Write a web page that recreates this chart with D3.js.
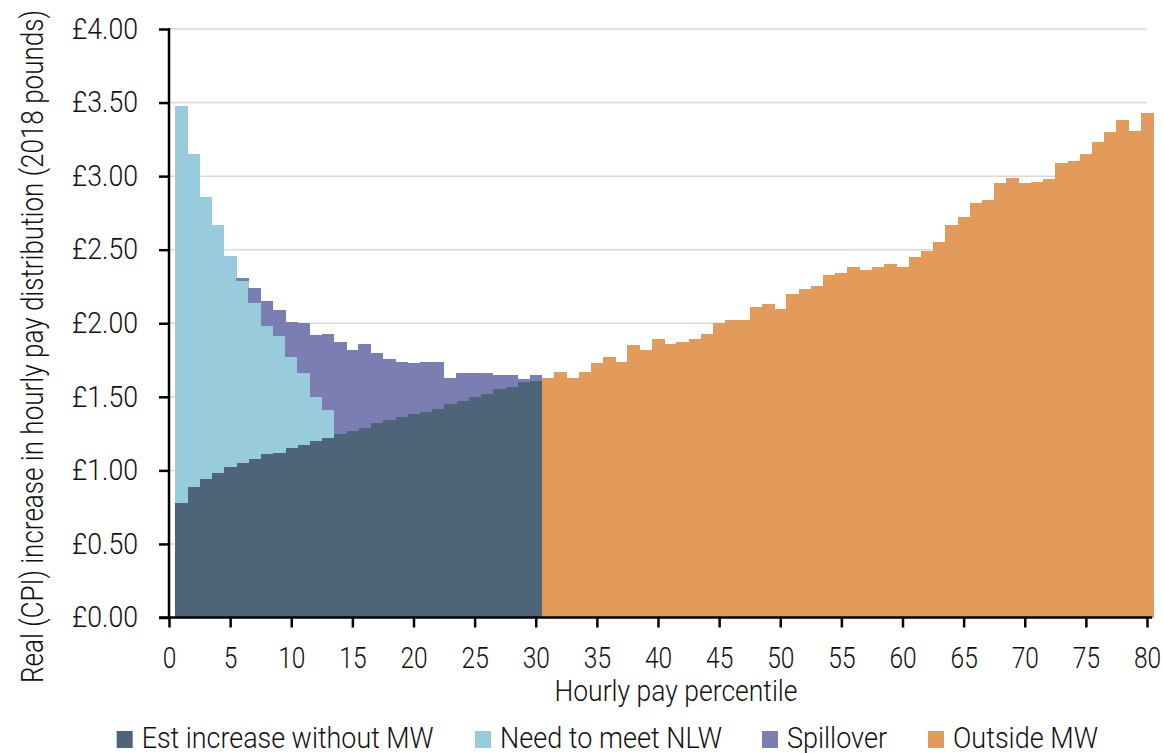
<!DOCTYPE html>
<html>
<head>
<meta charset="utf-8">
<script src="https://cdn.jsdelivr.net/npm/d3@7"></script>
<style>
  html, body { margin: 0; padding: 0; background: #ffffff; }
  svg { display: block; }
  text { font-family: Roboto, "Noto Sans", "Liberation Sans", sans-serif; font-weight: 300; fill: #111111; }
</style>
</head>
<body>
<svg id="chart" width="1163" height="753"></svg>
<script>
// ---- Data ----
const percentiles = d3.range(1, 81);

// Percentiles 1-30
const estWithoutMW = [0.78, 0.89, 0.94, 0.98, 1.02, 1.05, 1.08, 1.11, 1.12, 1.15,
                      1.17, 1.20, 1.22, 1.25, 1.27, 1.29, 1.32, 1.34, 1.36, 1.38,
                      1.40, 1.42, 1.45, 1.47, 1.50, 1.52, 1.55, 1.57, 1.60, 1.61];
// Percentiles 1-13
const needToMeetNLW = [2.70, 2.26, 1.92, 1.69, 1.44, 1.24, 1.06, 0.87, 0.79, 0.62,
                       0.49, 0.30, 0.19];
// Percentiles 1-30
const spillover = [0, 0, 0, 0, 0, 0.02, 0.10, 0.17, 0.18, 0.24,
                   0.34, 0.42, 0.52, 0.62, 0.55, 0.57, 0.48, 0.42, 0.38, 0.35,
                   0.34, 0.32, 0.18, 0.19, 0.16, 0.14, 0.10, 0.08, 0.02, 0.04];
// Percentiles 31-80
const outsideStart = 31;
const outsideMW = [1.63, 1.67, 1.63, 1.67, 1.73, 1.77, 1.74, 1.85, 1.82, 1.89,
                   1.86, 1.87, 1.89, 1.93, 2.00, 2.02, 2.02, 2.11, 2.13, 2.10,
                   2.20, 2.23, 2.25, 2.33, 2.34, 2.38, 2.36, 2.38, 2.40, 2.38,
                   2.45, 2.49, 2.55, 2.67, 2.72, 2.82, 2.84, 2.95, 2.99, 2.95,
                   2.96, 2.98, 3.09, 3.10, 3.15, 3.23, 3.30, 3.38, 3.31, 3.43];

const seriesKeys = ["est", "need", "spill", "outside"];
const seriesLabels = ["Est increase without MW", "Need to meet NLW", "Spillover", "Outside MW"];
const seriesColors = ["#4d6479", "#98cbdb", "#7b7eb3", "#e39b5c"];

const yTicks = [0, 0.5, 1, 1.5, 2, 2.5, 3, 3.5, 4];
const xTicks = d3.range(0, 81, 5);

(function () {
const table = percentiles.map((p, i) => ({
  p,
  est: estWithoutMW[i] || 0,
  need: needToMeetNLW[i] || 0,
  spill: spillover[i] || 0,
  outside: p >= outsideStart ? outsideMW[p - outsideStart] : 0
}));

// condensed look: squeeze text horizontally to a target advance width
function fit(sel, w) {
  sel.attr("textLength", w).attr("lengthAdjust", "spacingAndGlyphs");
}

// ---- Layout ----
const svg = d3.select("#chart");
const mLeft = 169, mRight = 1147, mTop = 29, mBottom = 617.5;

const x = d3.scaleLinear().domain([0, 80]).range([mLeft, mRight]);
const y = d3.scaleLinear().domain([0, 4]).range([mBottom, mTop]);

// Gridlines
svg.append("g")
  .selectAll("line")
  .data(yTicks.filter(d => d > 0))
  .join("line")
  .attr("x1", mLeft).attr("x2", mRight)
  .attr("y1", d => y(d)).attr("y2", d => y(d))
  .attr("stroke", "#d9d9d9").attr("stroke-width", 1.5);

// Bars
const stacked = d3.stack().keys(seriesKeys)(table);
const color = d3.scaleOrdinal().domain(seriesKeys).range(seriesColors);

svg.append("g")
  .selectAll("g")
  .data(stacked)
  .join("g")
  .attr("fill", d => color(d.key))
  .selectAll("rect")
  .data(d => d.filter(s => s[1] - s[0] > 0))
  .join("rect")
  .attr("shape-rendering", "crispEdges")
  .attr("x", d => x(d.data.p - 0.5))
  .attr("width", d => x(d.data.p + 0.5) - x(d.data.p - 0.5) + 0.4)
  .attr("y", d => y(d[1]))
  .attr("height", d => y(d[0]) - y(d[1]));

// Y axis
const yAxis = d3.axisLeft(y)
  .tickValues(yTicks)
  .tickFormat(d => "£" + d.toFixed(2))
  .tickSize(10)
  .tickPadding(21);
const gy = svg.append("g").attr("transform", `translate(${mLeft},0)`).call(yAxis);
gy.select(".domain").remove();
gy.selectAll(".tick line").attr("stroke", "#000").attr("stroke-width", 2.5);
gy.selectAll(".tick text").attr("font-size", 29).attr("font-family", null)
  .call(fit, 66);

// X axis
const xAxis = d3.axisBottom(x)
  .tickValues(xTicks)
  .tickFormat(d3.format("d"))
  .tickSize(10)
  .tickPadding(20);
const gx = svg.append("g").attr("transform", `translate(0,${mBottom})`).call(xAxis);
gx.select(".domain").remove();
gx.selectAll(".tick line").attr("stroke", "#000").attr("stroke-width", 2.5);
gx.selectAll(".tick text").attr("font-size", 29).attr("font-family", null)
  .each(function (d) { d3.select(this).call(fit, 13.6 * String(d).length); });

// Axis lines
svg.append("line")
  .attr("x1", mLeft).attr("x2", mLeft)
  .attr("y1", mTop - 1).attr("y2", mBottom + 1)
  .attr("stroke", "#000").attr("stroke-width", 2.5);
svg.append("line")
  .attr("x1", mLeft - 10).attr("x2", x(80.5) - 1)
  .attr("y1", mBottom).attr("y2", mBottom)
  .attr("stroke", "#000").attr("stroke-width", 2.5);

// Axis titles
svg.append("text")
  .attr("x", 676).attr("y", 701)
  .attr("text-anchor", "middle")
  .attr("font-size", 30)
  .text("Hourly pay percentile")
  .call(fit, 243);

svg.append("text")
  .attr("transform", "translate(43,346.5) rotate(-90)")
  .attr("text-anchor", "middle")
  .attr("font-size", 31)
  .text("Real (CPI) increase in hourly pay distribution (2018 pounds)")
  .call(fit, 673);

// Legend
const legendX = [141.7, 500, 787, 953];
const legendW = [292, 222, 100, 145];
const legend = svg.append("g");
seriesKeys.forEach((k, i) => {
  legend.append("rect")
    .attr("x", legendX[i] - 25).attr("y", 731)
    .attr("width", 16).attr("height", 17)
    .attr("fill", seriesColors[i]);
  legend.append("text")
    .attr("x", legendX[i]).attr("y", 748)
    .attr("font-size", 30)
    .text(seriesLabels[i])
    .call(fit, legendW[i]);
});
})();
</script>
</body>
</html>
